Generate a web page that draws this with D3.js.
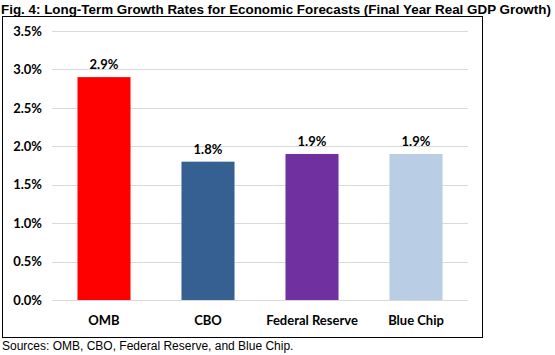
<!DOCTYPE html>
<html><head><meta charset="utf-8">
<script src="https://cdn.jsdelivr.net/npm/d3@7"></script>
<style>body{margin:0;background:#fff}svg{display:block}</style>
</head><body>
<svg id="c" width="555" height="355"></svg>
<script>
const categories = ["OMB", "CBO", "Federal Reserve", "Blue Chip"];
const values = [2.9, 1.8, 1.9, 1.9];
const colors = ["#FF0000", "#376092", "#7030A0", "#B9CDE5"];
const yTicks = [0, 0.5, 1.0, 1.5, 2.0, 2.5, 3.0, 3.5];
const title = "Fig. 4: Long-Term Growth Rates for Economic Forecasts (Final Year Real GDP Growth)";
const source = "Sources: OMB, CBO, Federal Reserve, and Blue Chip.";

const svg = d3.select("#c");
const lab = "Lato, Calibri, 'Open Sans', sans-serif";

svg.append("text").attr("x", 1).attr("y", 14).attr("font-family", "Arial, 'Liberation Sans', sans-serif")
  .attr("font-weight", "bold").attr("font-size", 13.4).attr("fill", "#000").text(title);

svg.append("rect").attr("x", 2.5).attr("y", 16.5).attr("width", 480).attr("height", 321)
  .attr("fill", "#fff").attr("stroke", "#000").attr("stroke-width", 1);

const x = d3.scaleBand().domain(categories).range([52, 468]).paddingInner(0.49).paddingOuter(0.245);
const y = d3.scaleLinear().domain([0, 3.5]).range([300, 31]);

const grid = svg.append("g");
grid.selectAll("line").data(yTicks).join("line")
  .attr("x1", 52).attr("x2", 468).attr("y1", d => Math.round(y(d)) + 0.5).attr("y2", d => Math.round(y(d)) + 0.5)
  .attr("stroke", "#D9D9D9").attr("stroke-width", 1);

const yAxis = d3.axisLeft(y).tickValues(yTicks).tickFormat(d => d.toFixed(1) + "%").tickSize(0).tickPadding(8);
const ga = svg.append("g").attr("transform", "translate(50,0)").call(yAxis);
ga.select(".domain").remove();
ga.selectAll("text").attr("font-family", lab).attr("font-weight", "bold").attr("font-size", 13).attr("fill", "#000");

svg.append("g").selectAll("rect").data(values).join("rect")
  .attr("x", (d, i) => x(categories[i])).attr("width", x.bandwidth())
  .attr("y", d => y(d)).attr("height", d => y(0) - y(d))
  .attr("fill", (d, i) => colors[i]);

svg.append("g").selectAll("text").data(values).join("text")
  .attr("x", (d, i) => x(categories[i]) + x.bandwidth() / 2).attr("y", d => y(d) - 8)
  .attr("text-anchor", "middle").attr("font-family", lab).attr("font-weight", "bold").attr("font-size", 13)
  .attr("fill", "#000").text(d => d.toFixed(1) + "%");

const xAxis = d3.axisBottom(x).tickSize(0).tickPadding(16);
const gx = svg.append("g").attr("transform", "translate(0,300)").call(xAxis);
gx.select(".domain").remove();
gx.selectAll("text").attr("font-family", lab).attr("font-weight", "bold").attr("font-size", 13).attr("fill", "#000");

svg.append("text").attr("x", 2).attr("y", 350).attr("font-family", "Arial, 'Liberation Sans', sans-serif")
  .attr("font-size", 12).attr("fill", "#000").text(source);
</script>
</body></html>
